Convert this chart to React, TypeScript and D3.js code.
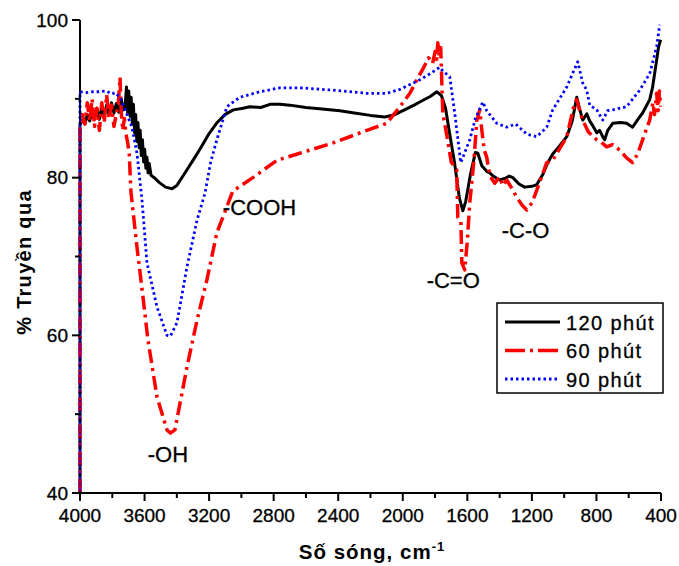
import React from "react";
import * as d3 from "d3";

// ---- Data (wavenumber cm-1, % transmittance) ----
const s120: [number, number][] = [
  [4000, 40], [4000, 86.7], [3985, 87.3], [3970, 86.8], [3955, 88.0], [3940, 87.2], [3925, 88.4], [3910, 87.5],
  [3895, 88.8], [3880, 87.4], [3865, 89.0], [3850, 87.8], [3835, 89.2], [3820, 88.0], [3805, 89.5], [3790, 88.2],
  [3775, 89.4], [3760, 88.3], [3745, 90.0], [3732, 88.6], [3720, 89.2], [3712, 91.5], [3705, 88.2], [3698, 91.0],
  [3690, 87.8], [3683, 90.2], [3676, 86.8], [3669, 89.3], [3662, 85.7], [3655, 88.0], [3648, 84.6], [3641, 87.0],
  [3634, 83.8], [3627, 86.0], [3620, 82.8], [3613, 84.8], [3606, 82.0], [3599, 83.6], [3592, 81.2], [3585, 82.6],
  [3578, 80.6], [3571, 81.8], [3560, 80.3], [3540, 80.0], [3510, 79.4], [3470, 78.8], [3430, 78.6], [3400, 79.0],
  [3350, 80.6], [3300, 82.2], [3257, 83.6], [3200, 85.6], [3150, 87.0], [3102, 88.0], [3050, 88.6], [2990, 88.8],
  [2947, 89.0], [2880, 88.9], [2823, 89.3], [2760, 89.3], [2700, 89.2], [2600, 88.9], [2500, 88.7], [2390, 88.5],
  [2300, 88.2], [2200, 87.9], [2111, 87.7], [2050, 88.0], [1980, 88.7], [1930, 89.2], [1895, 89.6], [1830, 90.3],
  [1789, 90.9], [1760, 90.4], [1735, 88.8], [1709, 85.5], [1680, 82.0], [1650, 77.5], [1628, 75.8], [1610, 77.0],
  [1580, 80.5], [1550, 83.2], [1535, 83.1], [1510, 81.5], [1480, 80.8], [1461, 80.6], [1440, 80.2], [1400, 79.7],
  [1368, 79.9], [1340, 80.2], [1318, 80.0], [1280, 79.2], [1244, 78.8], [1200, 78.9], [1170, 79.1], [1130, 80.5],
  [1102, 81.9], [1071, 83.0], [1030, 84.0], [984, 85.2], [950, 87.2], [922, 90.2], [905, 88.8], [885, 87.3],
  [860, 88.1], [842, 87.2], [820, 86.5], [798, 85.7], [780, 86.0], [761, 85.2], [749, 84.8], [730, 86.0],
  [699, 86.9], [650, 87.0], [613, 86.9], [576, 86.4], [540, 87.5], [514, 88.2], [470, 89.9], [452, 91.5],
  [430, 94.5], [415, 96.6], [402, 97.5],
];

const s60: [number, number][] = [
  [4000, 40], [4000, 86.5], [3985, 88.0], [3970, 86.8], [3955, 89.5], [3940, 87.2], [3925, 90.0], [3910, 86.5],
  [3895, 88.8], [3880, 86.0], [3865, 89.5], [3850, 87.0], [3835, 90.5], [3820, 87.5], [3805, 89.2], [3790, 86.5],
  [3775, 88.0], [3762, 89.5], [3752, 92.7], [3745, 88.5], [3735, 86.0], [3725, 87.5], [3715, 85.5], [3705, 84.5],
  [3695, 83.0], [3684, 78.1], [3670, 75.5], [3647, 71.2], [3610, 64.9], [3579, 59.4], [3523, 52.2], [3461, 48.0],
  [3440, 47.6], [3412, 48.0], [3337, 56.0], [3275, 61.9], [3214, 67.0], [3152, 73.0], [3090, 76.3], [3053, 78.3],
  [3009, 78.9], [2929, 80.0], [2780, 82.2], [2638, 83.1], [2433, 84.4], [2223, 86.0], [2099, 86.9], [2018, 89.0],
  [1956, 90.7], [1913, 92.4], [1870, 94.0], [1840, 95.2], [1815, 94.5], [1800, 96.0], [1790, 95.0], [1783, 97.1],
  [1775, 95.5], [1765, 96.5], [1752, 88.2], [1720, 84.5], [1700, 82.0], [1666, 81.0], [1659, 75.0], [1640, 74.5],
  [1634, 69.2], [1616, 68.3], [1600, 72.0], [1585, 76.8], [1560, 82.0], [1541, 87.3], [1523, 88.6], [1510, 86.0],
  [1495, 83.5], [1480, 82.6], [1460, 80.2], [1430, 79.3], [1400, 80.1], [1380, 79.0], [1356, 79.7], [1320, 78.5],
  [1294, 77.5], [1260, 76.5], [1232, 75.9], [1200, 76.8], [1170, 78.4], [1108, 81.9], [1071, 82.2], [984, 85.2],
  [935, 89.5], [922, 89.9], [900, 88.2], [885, 87.3], [850, 85.8], [798, 84.8], [770, 84.5], [737, 83.9],
  [700, 84.2], [656, 83.5], [613, 82.5], [576, 81.9], [545, 83.0], [514, 84.8], [490, 86.2], [470, 87.3],
  [450, 89.5], [440, 88.0], [427, 90.7], [418, 88.5], [410, 91.0], [402, 89.0],
];

const s90: [number, number][] = [
  [4000, 40], [4000, 90.9], [3960, 90.8], [3920, 90.9], [3880, 90.9], [3840, 91.0], [3800, 90.6], [3783, 90.8],
  [3752, 90.2], [3720, 88.6], [3678, 86.4], [3647, 83.1], [3616, 77.2], [3585, 69.2], [3523, 63.6], [3461, 60.0],
  [3440, 59.9], [3399, 61.6], [3337, 68.7], [3275, 74.6], [3226, 78.0], [3190, 82.0], [3152, 84.8], [3090, 89.0],
  [3009, 90.2], [2885, 90.9], [2761, 91.4], [2638, 91.4], [2433, 91.1], [2223, 90.7], [2099, 90.7], [2018, 91.2],
  [1895, 92.4], [1830, 93.2], [1771, 94.0], [1750, 93.5], [1709, 92.8], [1678, 88.2], [1641, 81.9], [1610, 83.5],
  [1585, 84.8], [1550, 87.5], [1504, 89.6], [1480, 88.5], [1418, 86.9], [1356, 86.4], [1300, 86.8], [1230, 85.5],
  [1170, 85.2], [1108, 86.4], [1071, 88.6], [984, 91.5], [916, 94.7], [885, 92.0], [860, 91.1], [842, 89.2],
  [798, 88.6], [761, 87.3], [730, 88.5], [699, 88.6], [613, 89.0], [532, 91.1], [470, 93.2], [427, 96.6], [408, 99.4],
];

const xTickValues = [4000, 3600, 3200, 2800, 2400, 2000, 1600, 1200, 800, 400];
const xMinorValues = [3800, 3400, 3000, 2600, 2200, 1800, 1400, 1000, 600];
const yTickValues = [40, 60, 80, 100];
const yMinorValues = [50, 70, 90];

const seriesNames = ["120 phút", "60 phút", "90 phút"];
const seriesColors = ["#000000", "#ff0000", "#0000ff"];

const annotations: { text: string; wn: number; t: number }[] = [
  { text: "-OH", wn: 3580, t: 43.9 },
  { text: "-COOH", wn: 3115, t: 75.3 },
  { text: "-C=O", wn: 1852, t: 66.0 },
  { text: "-C-O", wn: 1387, t: 72.3 },
];

const FONT = "'Liberation Sans', Arial, Helvetica, sans-serif";

export default function App() {
  const x = d3.scaleLinear().domain([4000, 400]).range([80, 661]);
  const y = d3.scaleLinear().domain([40, 100]).range([493, 20]);
  const line = d3
    .line<[number, number]>()
    .x((d) => x(d[0]))
    .y((d) => y(d[1]));

  const styles = [
    { stroke: seriesColors[0], width: 3, dash: "none" },
    { stroke: seriesColors[1], width: 3.5, dash: "14 5 3 5" },
    { stroke: seriesColors[2], width: 2.8, dash: "2.5 3" },
  ];
  const data = [s120, s60, s90];
  const drawOrder = [0, 1, 2];

  const legendX = 497;
  const legendY = 303;

  return (
    <svg
      width={679}
      height={566}
      style={{ position: "absolute", left: 0, top: 0, background: "#fff" }}
      fontFamily={FONT}
    >
      {/* series */}
      {drawOrder.map((i) => (
        <path
          key={i}
          d={line(data[i]) || ""}
          fill="none"
          stroke={styles[i].stroke}
          strokeWidth={styles[i].width}
          strokeDasharray={styles[i].dash}
          strokeLinejoin="round"
        />
      ))}

      {/* axes */}
      <line x1={x(4000)} x2={x(4000)} y1={y(100)} y2={y(40)} stroke="#000" strokeWidth={2} />
      <line x1={x(4000)} x2={x(400)} y1={y(40)} y2={y(40)} stroke="#000" strokeWidth={2} />
      {[1, 2].map((i) => (
        <line
          key={"v" + i}
          x1={x(4000)}
          x2={x(4000)}
          y1={y(data[i][1][1])}
          y2={y(40)}
          stroke={styles[i].stroke}
          strokeWidth={1.6}
          strokeDasharray={styles[i].dash}
        />
      ))}

      {yTickValues.map((v) => (
        <g key={"yt" + v}>
          <line x1={x(4000) - 8} x2={x(4000)} y1={y(v)} y2={y(v)} stroke="#000" strokeWidth={2} />
          <text x={x(4000) - 12} y={y(v) + 6.8} textAnchor="end" fontSize={19} stroke="#000" strokeWidth={0.3}>
            {v}
          </text>
        </g>
      ))}
      {yMinorValues.map((v) => (
        <line key={"ym" + v} x1={x(4000) - 5} x2={x(4000)} y1={y(v)} y2={y(v)} stroke="#000" strokeWidth={2} />
      ))}
      {xTickValues.map((v) => (
        <g key={"xt" + v}>
          <line x1={x(v)} x2={x(v)} y1={y(40)} y2={y(40) + 8} stroke="#000" strokeWidth={2} />
          <text x={x(v)} y={522} textAnchor="middle" fontSize={19} stroke="#000" strokeWidth={0.3}>
            {v}
          </text>
        </g>
      ))}
      {xMinorValues.map((v) => (
        <line key={"xm" + v} x1={x(v)} x2={x(v)} y1={y(40)} y2={y(40) + 5} stroke="#000" strokeWidth={2} />
      ))}

      {/* axis titles */}
      <text x={372} y={559} textAnchor="middle" fontSize={20.5} fontWeight="bold" letterSpacing={1}>
        Số sóng, cm<tspan dy={-8} fontSize={13}>-1</tspan>
      </text>
      <text
        transform="translate(31,262) rotate(-90)"
        textAnchor="middle"
        fontSize={20}
        fontWeight="bold"
        letterSpacing={1.3}
      >
        % Truyền qua
      </text>

      {/* annotations */}
      {annotations.map((a) => (
        <text key={a.text} x={x(a.wn)} y={y(a.t)} fontSize={22} stroke="#000" strokeWidth={0.3}>
          {a.text}
        </text>
      ))}

      {/* legend */}
      <rect x={legendX} y={legendY} width={166} height={90} fill="#fff" stroke="#000" strokeWidth={1.5} />
      {seriesNames.map((name, i) => {
        const ly = legendY + 19 + i * 28.5;
        return (
          <g key={name}>
            <line
              x1={legendX + 8}
              x2={legendX + 63}
              y1={ly}
              y2={ly}
              stroke={styles[i].stroke}
              strokeWidth={styles[i].width}
              strokeDasharray={i === 1 ? "20 5 3 5" : styles[i].dash}
            />
            <text x={legendX + 69} y={ly + 7.5} fontSize={20} letterSpacing={1.4} stroke="#000" strokeWidth={0.3}>
              {name}
            </text>
          </g>
        );
      })}
    </svg>
  );
}
